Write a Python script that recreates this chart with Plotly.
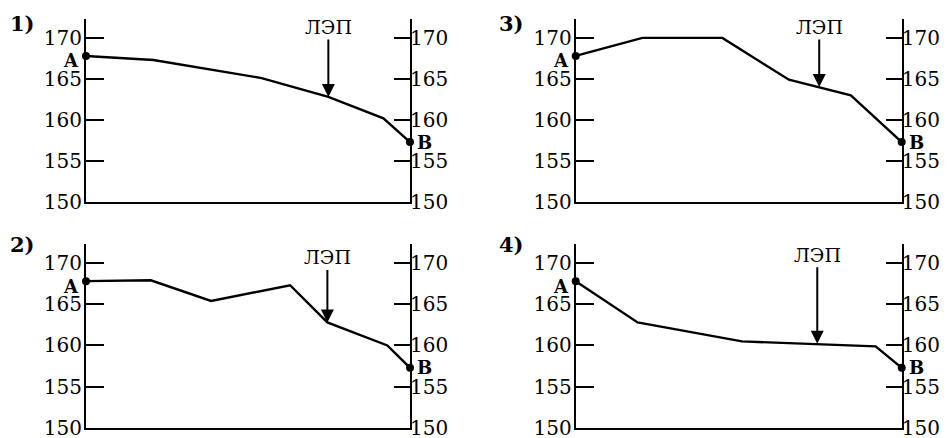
import plotly.graph_objects as go

FONT = "DejaVu Serif"
INK = "#000000"

# profile of the terrain between A and B (x as share of distance, y = height)
p1_x = [0.0, 0.208, 0.542, 0.748, 0.918, 1.0]
p1_y = [167.8, 167.3, 165.1, 162.8, 160.2, 157.3]

p2_x = [0.0, 0.20, 0.386, 0.63, 0.745, 0.93, 1.0]
p2_y = [167.8, 167.9, 165.4, 167.3, 162.8, 160.0, 157.3]

p3_x = [0.0, 0.2045, 0.45, 0.654, 0.844, 1.0]
p3_y = [167.8, 170.0, 170.0, 164.9, 163.0, 157.3]

p4_x = [0.0, 0.19, 0.51, 0.92, 1.0]
p4_y = [167.8, 162.8, 160.5, 159.9, 157.3]

# where the power line (ЛЭП) crosses each profile
lep_x = [0.748, 0.745, 0.747, 0.741]
lep_y = [162.8, 162.8, 164.0, 160.2]

tick_vals = [150, 155, 160, 165, 170]
panel_names = ["1)", "2)", "3)", "4)"]

profiles = [(p1_x, p1_y), (p2_x, p2_y), (p3_x, p3_y), (p4_x, p4_y)]

# panel placement in paper coords: (x domain, y domain, label x, label y)
W, H = 948, 438
top_y = [1 - 202 / H, 1 - 19 / H]
bot_y = [1 - 428 / H, 1 - 244 / H]
left_x = [86 / W, 410 / W]
right_x = [575.7 / W, 901.7 / W]
panels = [
    (left_x, top_y, 8 / W, 1 - 23 / H),
    (left_x, bot_y, 8 / W, 1 - 244 / H),
    (right_x, top_y, 497 / W, 1 - 23 / H),
    (right_x, bot_y, 497 / W, 1 - 244 / H),
]
lep_ay = [-70, -65, -60, -89]

fig = go.Figure()
layout = {}
annotations = []

for i, ((xs, ys), (xd, yd, lx, ly)) in enumerate(zip(profiles, panels)):
    n = i + 1
    rn = i + 5
    xa = f"x{n}" if n > 1 else "x"
    ya = f"y{n}" if n > 1 else "y"
    yr = f"y{rn}"

    fig.add_trace(go.Scatter(
        x=xs, y=ys, mode="lines", xaxis=xa, yaxis=ya,
        line=dict(color=INK, width=2.4), hoverinfo="skip", showlegend=False,
    ))
    fig.add_trace(go.Scatter(
        x=[xs[0], xs[-1]], y=[ys[0], ys[-1]], mode="markers", xaxis=xa, yaxis=yr,
        marker=dict(color=INK, size=8), cliponaxis=False,
        hoverinfo="skip", showlegend=False,
    ))

    xkey = "xaxis" if n == 1 else f"xaxis{n}"
    ykey = "yaxis" if n == 1 else f"yaxis{n}"
    layout[xkey] = dict(
        domain=xd, range=[0, 1], anchor=ya, showline=True, linecolor=INK,
        linewidth=2, showticklabels=False, ticks="", showgrid=False, zeroline=False,
        automargin=False,
    )
    axis_common = dict(
        domain=yd, range=[150, 172.3], anchor=xa, showline=True, linecolor=INK,
        linewidth=2, tickvals=tick_vals, ticks="inside", tickcolor=INK,
        tickwidth=2, showgrid=False, zeroline=False, automargin=False,
        ticklabeloverflow="allow",
        tickfont=dict(family=FONT, size=20, color=INK),
    )
    layout[ykey] = dict(axis_common, side="left", ticklen=18, ticklabelstandoff=-2)
    layout[f"yaxis{rn}"] = dict(axis_common, side="right", overlaying=ya,
                                ticklen=16, ticklabelstandoff=-6)

    # ЛЭП arrow
    annotations.append(dict(
        x=lep_x[i], y=lep_y[i], xref=xa, yref=ya, text="ЛЭП",
        showarrow=True, arrowhead=2, arrowsize=1.3, arrowwidth=2, arrowcolor=INK,
        ax=0, ay=lep_ay[i], font=dict(family=FONT, size=19, color=INK),
    ))
    # A and B labels
    annotations.append(dict(
        x=0, y=ys[0], xref=xa, yref=ya, text="<b>A</b>", showarrow=False,
        xanchor="right", xshift=-5, yshift=-5,
        font=dict(family=FONT, size=18, color=INK),
    ))
    annotations.append(dict(
        x=1, y=ys[-1], xref=xa, yref=ya, text="<b>B</b>", showarrow=False,
        xanchor="left", xshift=5, yshift=0,
        font=dict(family=FONT, size=18, color=INK),
    ))
    # panel number
    annotations.append(dict(
        x=lx, y=ly, xref="paper", yref="paper", text=f"<b>{panel_names[i]}</b>",
        showarrow=False, xanchor="left", yanchor="middle",
        font=dict(family=FONT, size=21, color=INK),
    ))

fig.update_layout(
    width=W, height=H,
    margin=dict(l=0, r=0, t=0, b=0),
    paper_bgcolor="white", plot_bgcolor="white",
    annotations=annotations,
    **layout,
)

fig.write_html("out.html", config={"displayModeBar": False},
               post_script="document.body.style.margin='0';")
